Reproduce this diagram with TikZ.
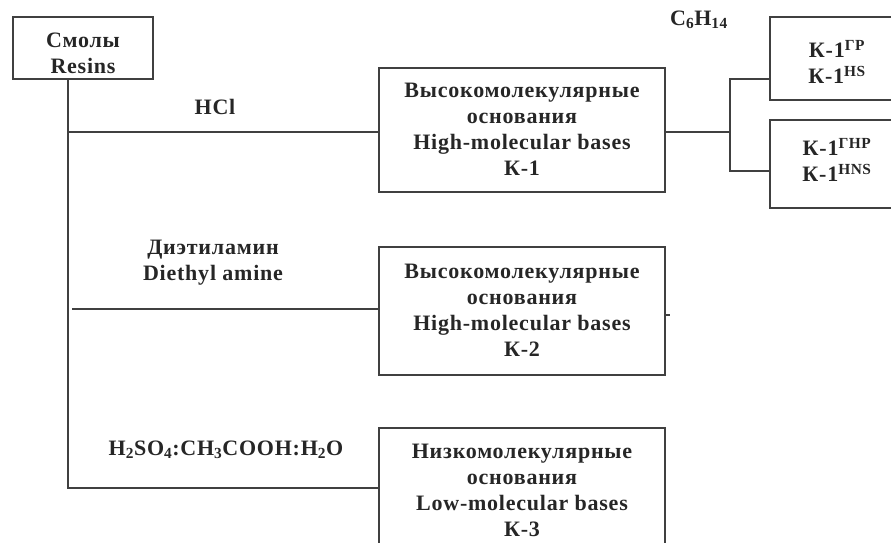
\documentclass[tikz,border=0pt]{standalone}
\usepackage{fontspec}
\setmainfont{Liberation Serif}[LetterSpace=3.5]
\begin{document}
\begin{tikzpicture}[x=1pt,y=-1pt,
  every node/.style={font=\fontsize{22}{26}\selectfont\bfseries, text=black!85, align=center},
  box/.style={draw=black!75, line width=1.3pt, inner sep=0pt},
  conn/.style={draw=black!75, line width=1.3pt},
  lbl/.style={inner sep=0pt}]
\useasboundingbox (0,0) rectangle (891,542);
\clip (0,0) rectangle (891,542);
\node[box, minimum width=140, minimum height=62] (resins) at (83,48) {};
\node[lbl] (resinst) at (83,53) {Смолы\\Resins};
\node[box, minimum width=286, minimum height=124] (b1) at (522,130) {};
\node[lbl] (b1t) at (522,129) {Высокомолекулярные\\основания\\High-molecular bases\\К-1};
\node[box, minimum width=286, minimum height=128] (b2) at (522,311) {};
\node[lbl] (b2t) at (522,310) {Высокомолекулярные\\основания\\High-molecular bases\\К-2};
\node[box, minimum width=286, minimum height=140] (b3) at (522,498) {};
\node[lbl] (b3t) at (522,490) {Низкомолекулярные\\основания\\Low-molecular bases\\К-3};
\node[box, minimum width=134, minimum height=83] (gr) at (837,58.5) {};
\node[lbl] (grt) at (837,62) {К-1\textsuperscript{ГР}\\К-1\textsuperscript{HS}};
\node[box, minimum width=134, minimum height=88] (gnr) at (837,164) {};
\node[lbl] (gnrt) at (837,160) {К-1\textsuperscript{ГНР}\\К-1\textsuperscript{HNS}};
\node[lbl] (hcl) at (215,107) {HCl};
\node[lbl] (c6) at (699,20) {C\textsubscript{6}H\textsubscript{14}};
\node[lbl] (dea) at (213,263) {Диэтиламин\\Diethyl amine};
\node[lbl] (acid) at (226,450) {H\textsubscript{2}SO\textsubscript{4}:CH\textsubscript{3}COOH:H\textsubscript{2}O};
\coordinate (t1) at (68,132);
\coordinate (t2) at (68,309);
\coordinate (t3) at (68,488);
\coordinate (fk) at (730,132);
\coordinate (fa) at (730,79);
\coordinate (fb) at (730,171);
\draw[conn] (resins.south -| t1) -- (t3) -- (t3 -| b3.west);
\draw[conn] (t1) -- (t1 -| b1.west);
\draw[conn] ([xshift=4]t2) -- (t2 -| b2.west);
\draw[conn] (b2.east |- 0,315) -- ++(4,0);
\draw[conn] (fk -| b1.east) -- (fk);
\draw[conn] (fa -| gr.west) -- (fa) -- (fb) -- (fb -| gnr.west);
\end{tikzpicture}
\end{document}
